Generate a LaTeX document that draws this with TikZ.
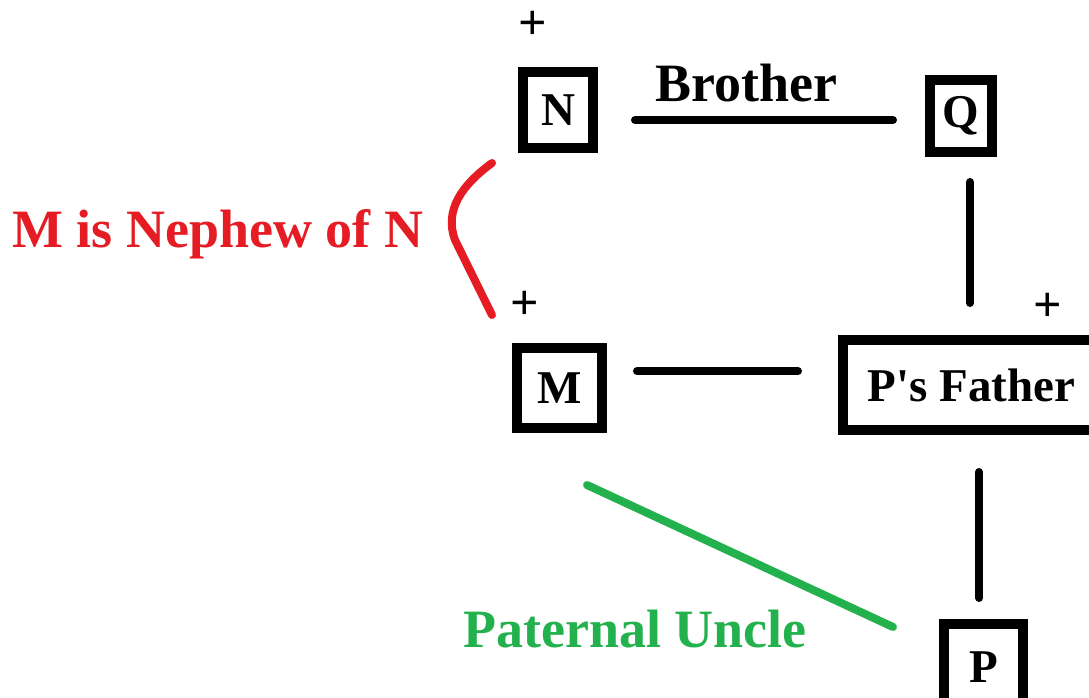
\documentclass[tikz,border=0pt]{standalone}
\usepackage{fontspec}
\setmainfont{Liberation Serif}
\usetikzlibrary{calc}
\definecolor{pred}{RGB}{230,28,36}
\definecolor{pgreen}{RGB}{34,177,76}
\tikzset{
  person/.style={draw=black, line width=10pt, inner sep=0pt, font=\fontsize{47}{50}\selectfont\bfseries},
  link/.style={line width=8pt, line cap=round},
  plus/.style={inner sep=0pt, font=\fontsize{50}{52}\selectfont\bfseries},
  lab/.style={anchor=base west, inner sep=0pt, font=\fontsize{54}{60}\selectfont\bfseries}
}
\begin{document}
\begin{tikzpicture}[x=1pt,y=-1pt]
\useasboundingbox (0,0) rectangle (1089,698);
% boxes
\node[person, minimum width=70pt, minimum height=76pt] (N) at (558,110) {N};
\node[person, minimum width=62pt, minimum height=72pt] (Q) at (961,116) {Q};
\node[person, minimum width=85pt, minimum height=80pt] (M) at (559.5,388) {M};
\node[person, minimum width=257pt, minimum height=90pt] (pf) at (971.5,385) {P\textquotesingle s Father};
\node[person, minimum width=79pt, minimum height=86pt] (P) at (983.5,667) {P};
% plus signs
\node[plus] (plusN) at (533,25) {+};
\node[plus] (plusM) at (525,305) {+};
\node[plus] (plusF) at (1048,307) {+};
% labels
\node[lab] (bro) at (655,102) {Brother};
\node[lab, text=pred] (neph) at (12,247) {M is Nephew of N};
\node[lab, text=pgreen] (unc) at (463,647) {Paternal Uncle};
% connectors
\draw[link] ($(N.east)+(37,10)$) -- ($(Q.west)+(-32,4)$);
\draw[link] ($(Q.south)+(9,25)$) -- ($(pf.north)+(-1.5,-32)$);
\draw[link] ($(M.east)+(30,-17)$) -- ($(pf.west)+(-40,-14)$);
\draw[link] ($(pf.south)+(7.5,37)$) -- ($(P.north)+(-4.5,-21)$);
\draw[link, pgreen] ($(M.south)+(27.5,52)$) -- ($(P.west)+(-46,-40)$);
\draw[link, pred] ($(N.south west)+(-26,10)$) .. controls (462,185) and (444,210) .. (455,240) -- ($(M.north west)+(-20,-28)$);
\end{tikzpicture}
\end{document}
